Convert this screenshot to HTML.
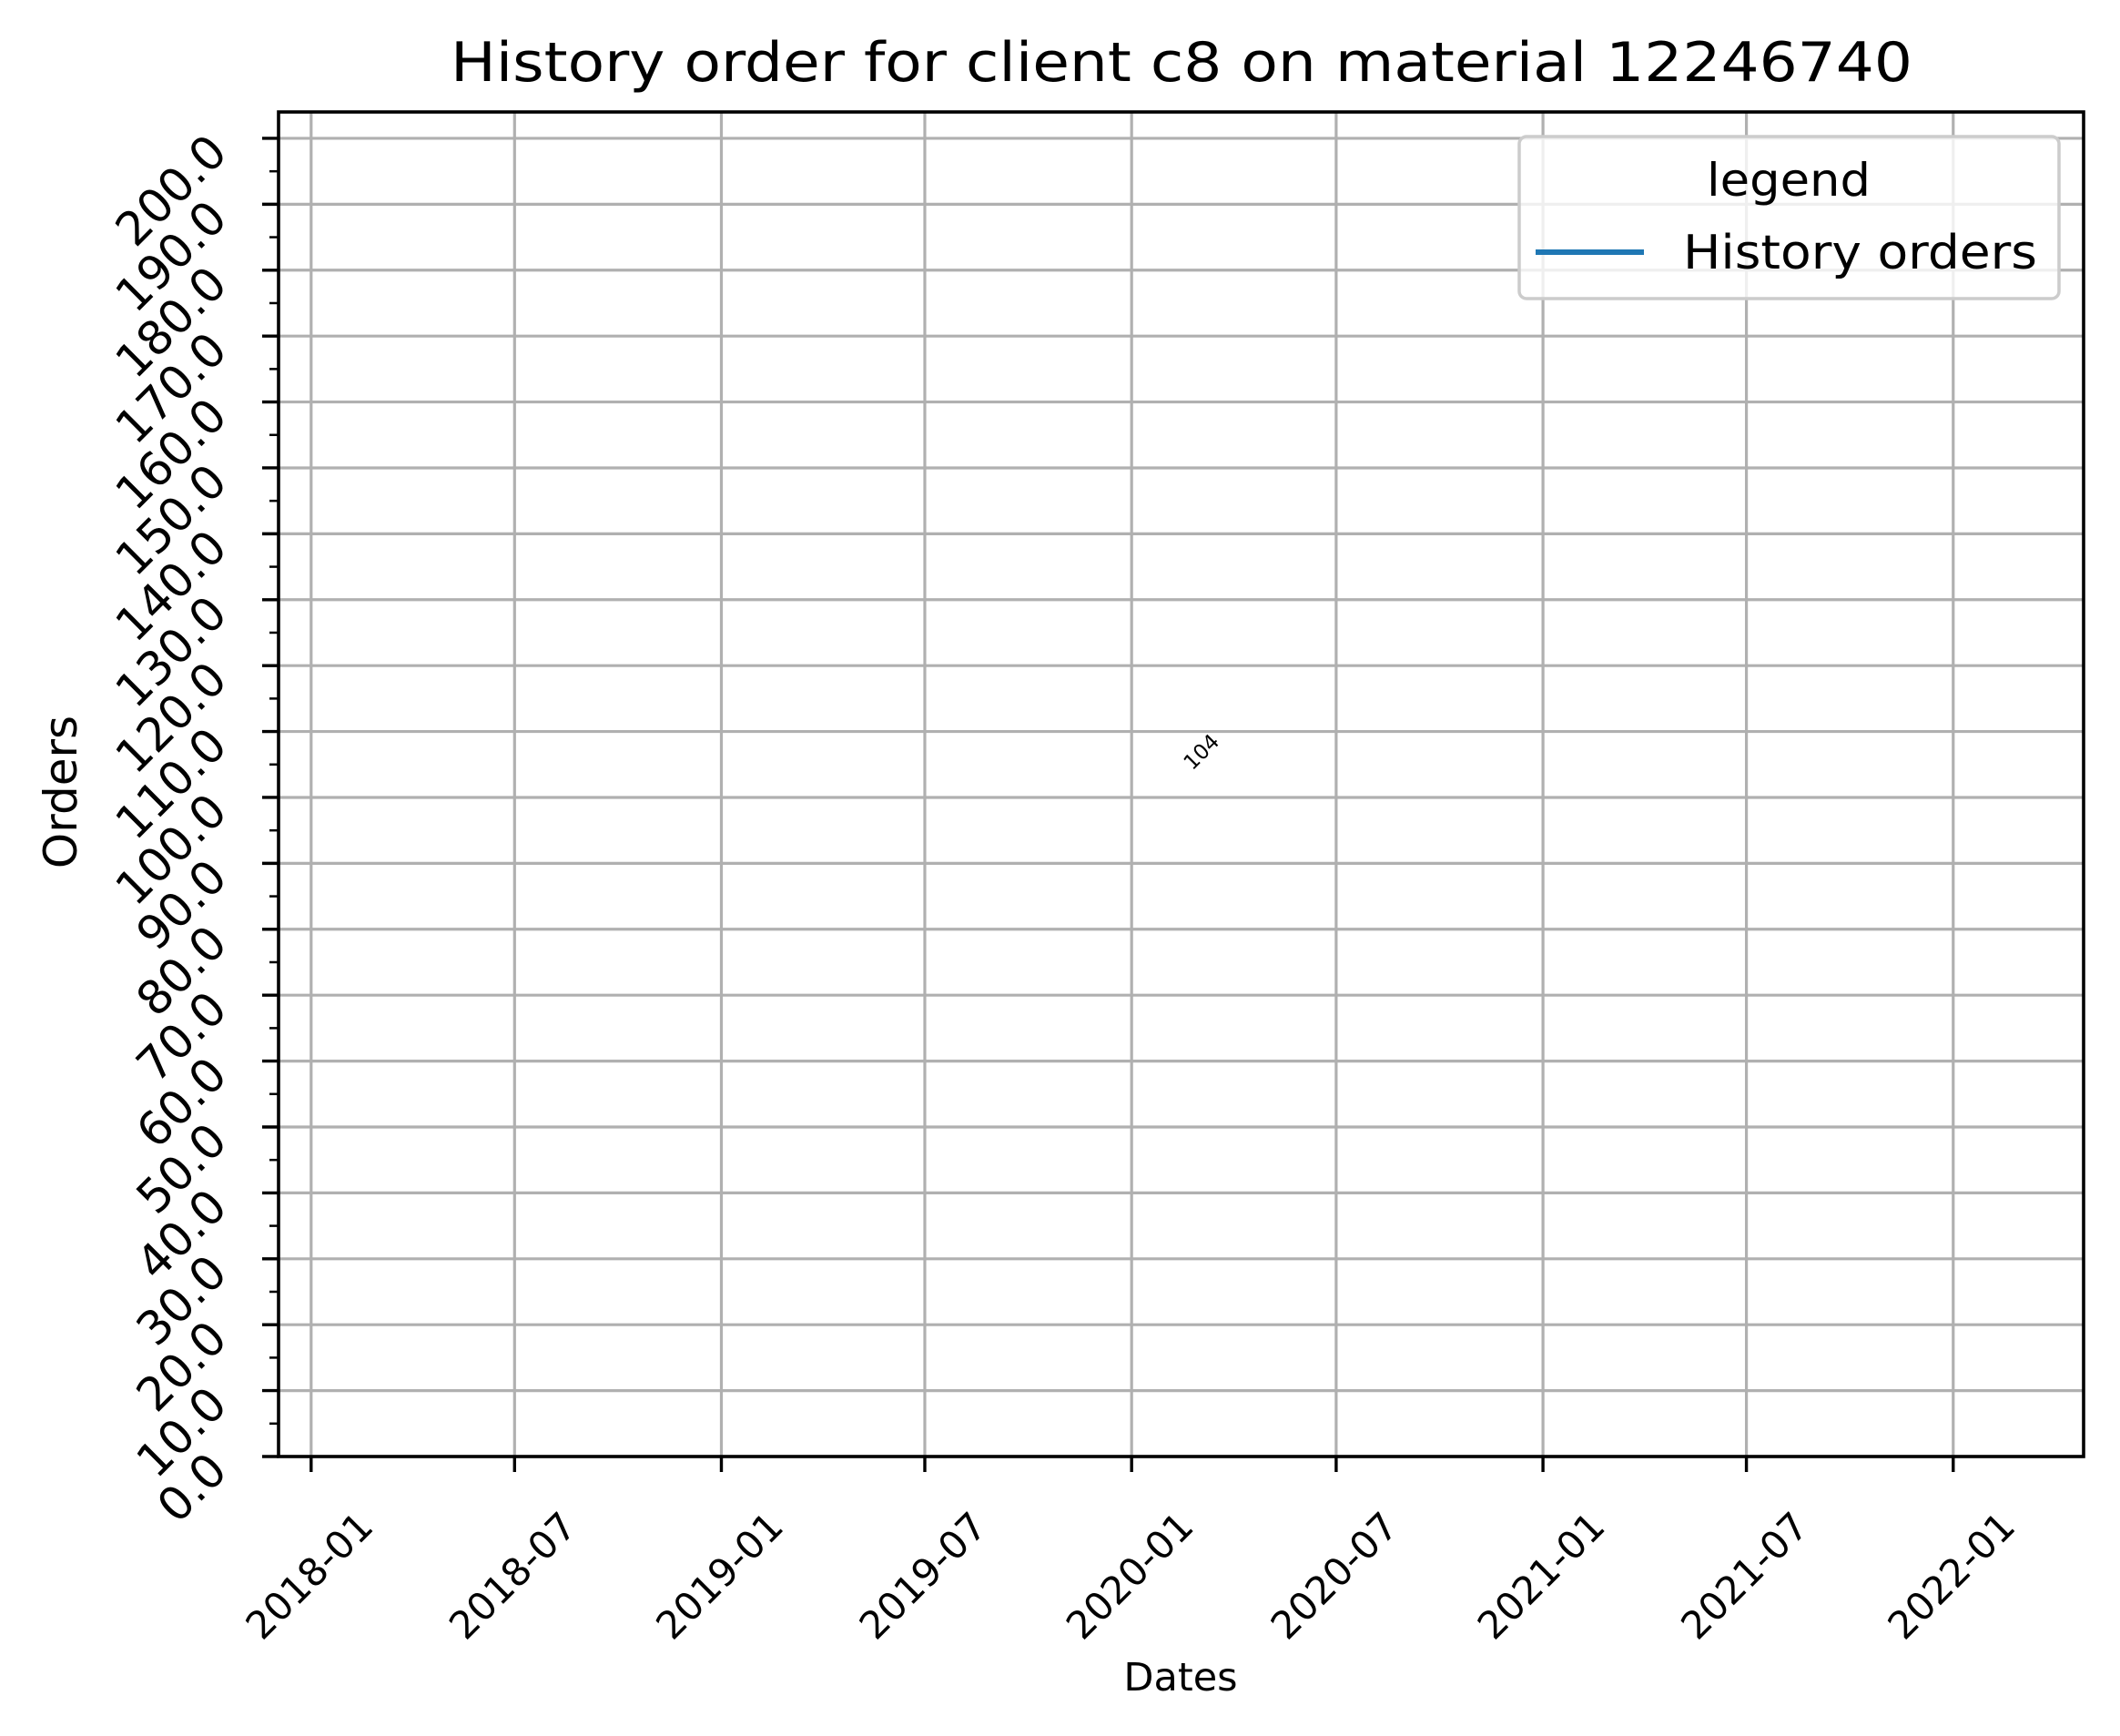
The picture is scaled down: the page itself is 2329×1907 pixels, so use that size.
<!DOCTYPE html>
<html><head><meta charset="utf-8"><style>
html,body{margin:0;padding:0;background:#fff}
svg{display:block;font-family:"DejaVu Sans","Liberation Sans",sans-serif}
</style></head><body>
<svg id="chart" width="2329" height="1907" viewBox="0 0 2329 1907" xmlns="http://www.w3.org/2000/svg">
<rect width="2329" height="1907" fill="#fff"/>
<g id="grid"></g>
<g id="marks"></g>
<g id="axes"></g>
</svg>
<script>
const yTicks=[0,10,20,30,40,50,60,70,80,90,100,110,120,130,140,150,160,170,180,190,200];
const xTickLabels=["2018-01","2018-07","2019-01","2019-07","2020-01","2020-07","2021-01","2021-07","2022-01"];
const seriesDates=["2020-02-24"];
const seriesValues=[104];
const annotations=["104"];

const L=306,R=2289,T=123,B=1600;
const yMin=0,yMax=204.0;
const d0=Date.UTC(2017,11,3), d1=Date.UTC(2022,3,27);
function xs(ds){const p=ds.split("-").map(Number);const t=Date.UTC(p[0],p[1]-1,p[2]||1);return L+(t-d0)/(d1-d0)*(R-L);}
function ys(v){return B-(v-yMin)/(yMax-yMin)*(B-T);}
const NS="http://www.w3.org/2000/svg";
function mk(tag,attrs,parent,txt){const e=document.createElementNS(NS,tag);for(const k in attrs)e.setAttribute(k,attrs[k]);if(txt!==undefined)e.textContent=txt;parent.appendChild(e);return e;}
const grid=document.getElementById("grid"),marks=document.getElementById("marks"),axes=document.getElementById("axes"),svg=document.getElementById("chart");

xTickLabels.forEach(lbl=>{
  const x=xs(lbl);
  const g=mk("line",{x1:x,x2:x,y1:T,y2:B,stroke:"#b0b0b0","stroke-width":3.2},grid);
  
  
  const t=mk("line",{x1:x,x2:x,y1:B,y2:B+17,stroke:"#000","stroke-width":3.4},axes);
  
  
  const tx=mk("text",{x:x-2,y:1731,"font-size":42,"text-anchor":"middle","dominant-baseline":"central",transform:`rotate(-45 ${x-2} 1731)`},axes,lbl);
  
  
});
yTicks.forEach(v=>{
  const y=ys(v);
  const g=mk("line",{x1:L,x2:R,y1:y,y2:y,stroke:"#b0b0b0","stroke-width":3.2},grid);
  
  
  const t=mk("line",{x1:L-18,x2:L,y1:y,y2:y,stroke:"#000","stroke-width":3.4},axes);
  
  
  const tx=mk("text",{x:252,y:y+18,"font-size":51,"text-anchor":"end",transform:`rotate(-45 252 ${y+18})`},axes,v.toFixed(1));
  
  
  if(v<200){
    const m=mk("line",{x1:L-10,x2:L,y1:ys(v+5),y2:ys(v+5),stroke:"#000","stroke-width":2.5},axes);
    
    
  }
});

const pts=seriesDates.map((d,i)=>xs(d)+","+ys(seriesValues[i])).join(" ");
const pl=mk("polyline",{points:pts,fill:"none",stroke:"#1f77b4","stroke-width":6},marks);


seriesDates.forEach((d,i)=>{
  const x=xs(d),y=ys(seriesValues[i]);
  const a=mk("text",{x:x,y:y,"font-size":23,transform:`rotate(-45 ${x} ${y})`},marks,annotations[i]);
  
  
});

const fr=mk("rect",{x:L,y:T,width:R-L,height:B-T,fill:"none",stroke:"#000","stroke-width":3.6},axes);



const title=mk("text",{x:1298,y:89,"font-size":60,"text-anchor":"middle",textLength:1606,lengthAdjust:"spacingAndGlyphs"},svg,"History order for client c8 on material 12246740");


const xl=mk("text",{x:1297,y:1857,"font-size":43,"text-anchor":"middle"},svg,"Dates");


const yl=mk("text",{x:84,y:870,"font-size":50,"text-anchor":"middle",transform:"rotate(-90 84 870)"},svg,"Orders");



const lg=mk("g",{},svg);


mk("rect",{x:1669,y:150,width:593,height:178,rx:8,fill:"#fff","fill-opacity":0.8,stroke:"#cccccc","stroke-width":3.5},lg);
const lt=mk("text",{x:1965,y:215,"font-size":50,"text-anchor":"middle",textLength:180,lengthAdjust:"spacingAndGlyphs"},lg,"legend");


const ll=mk("line",{x1:1687,x2:1806,y1:277,y2:277,stroke:"#1f77b4","stroke-width":6},lg);


const le=mk("text",{x:1849,y:295,"font-size":52,textLength:389,lengthAdjust:"spacingAndGlyphs"},lg,"History orders");


</script>
</body></html>
